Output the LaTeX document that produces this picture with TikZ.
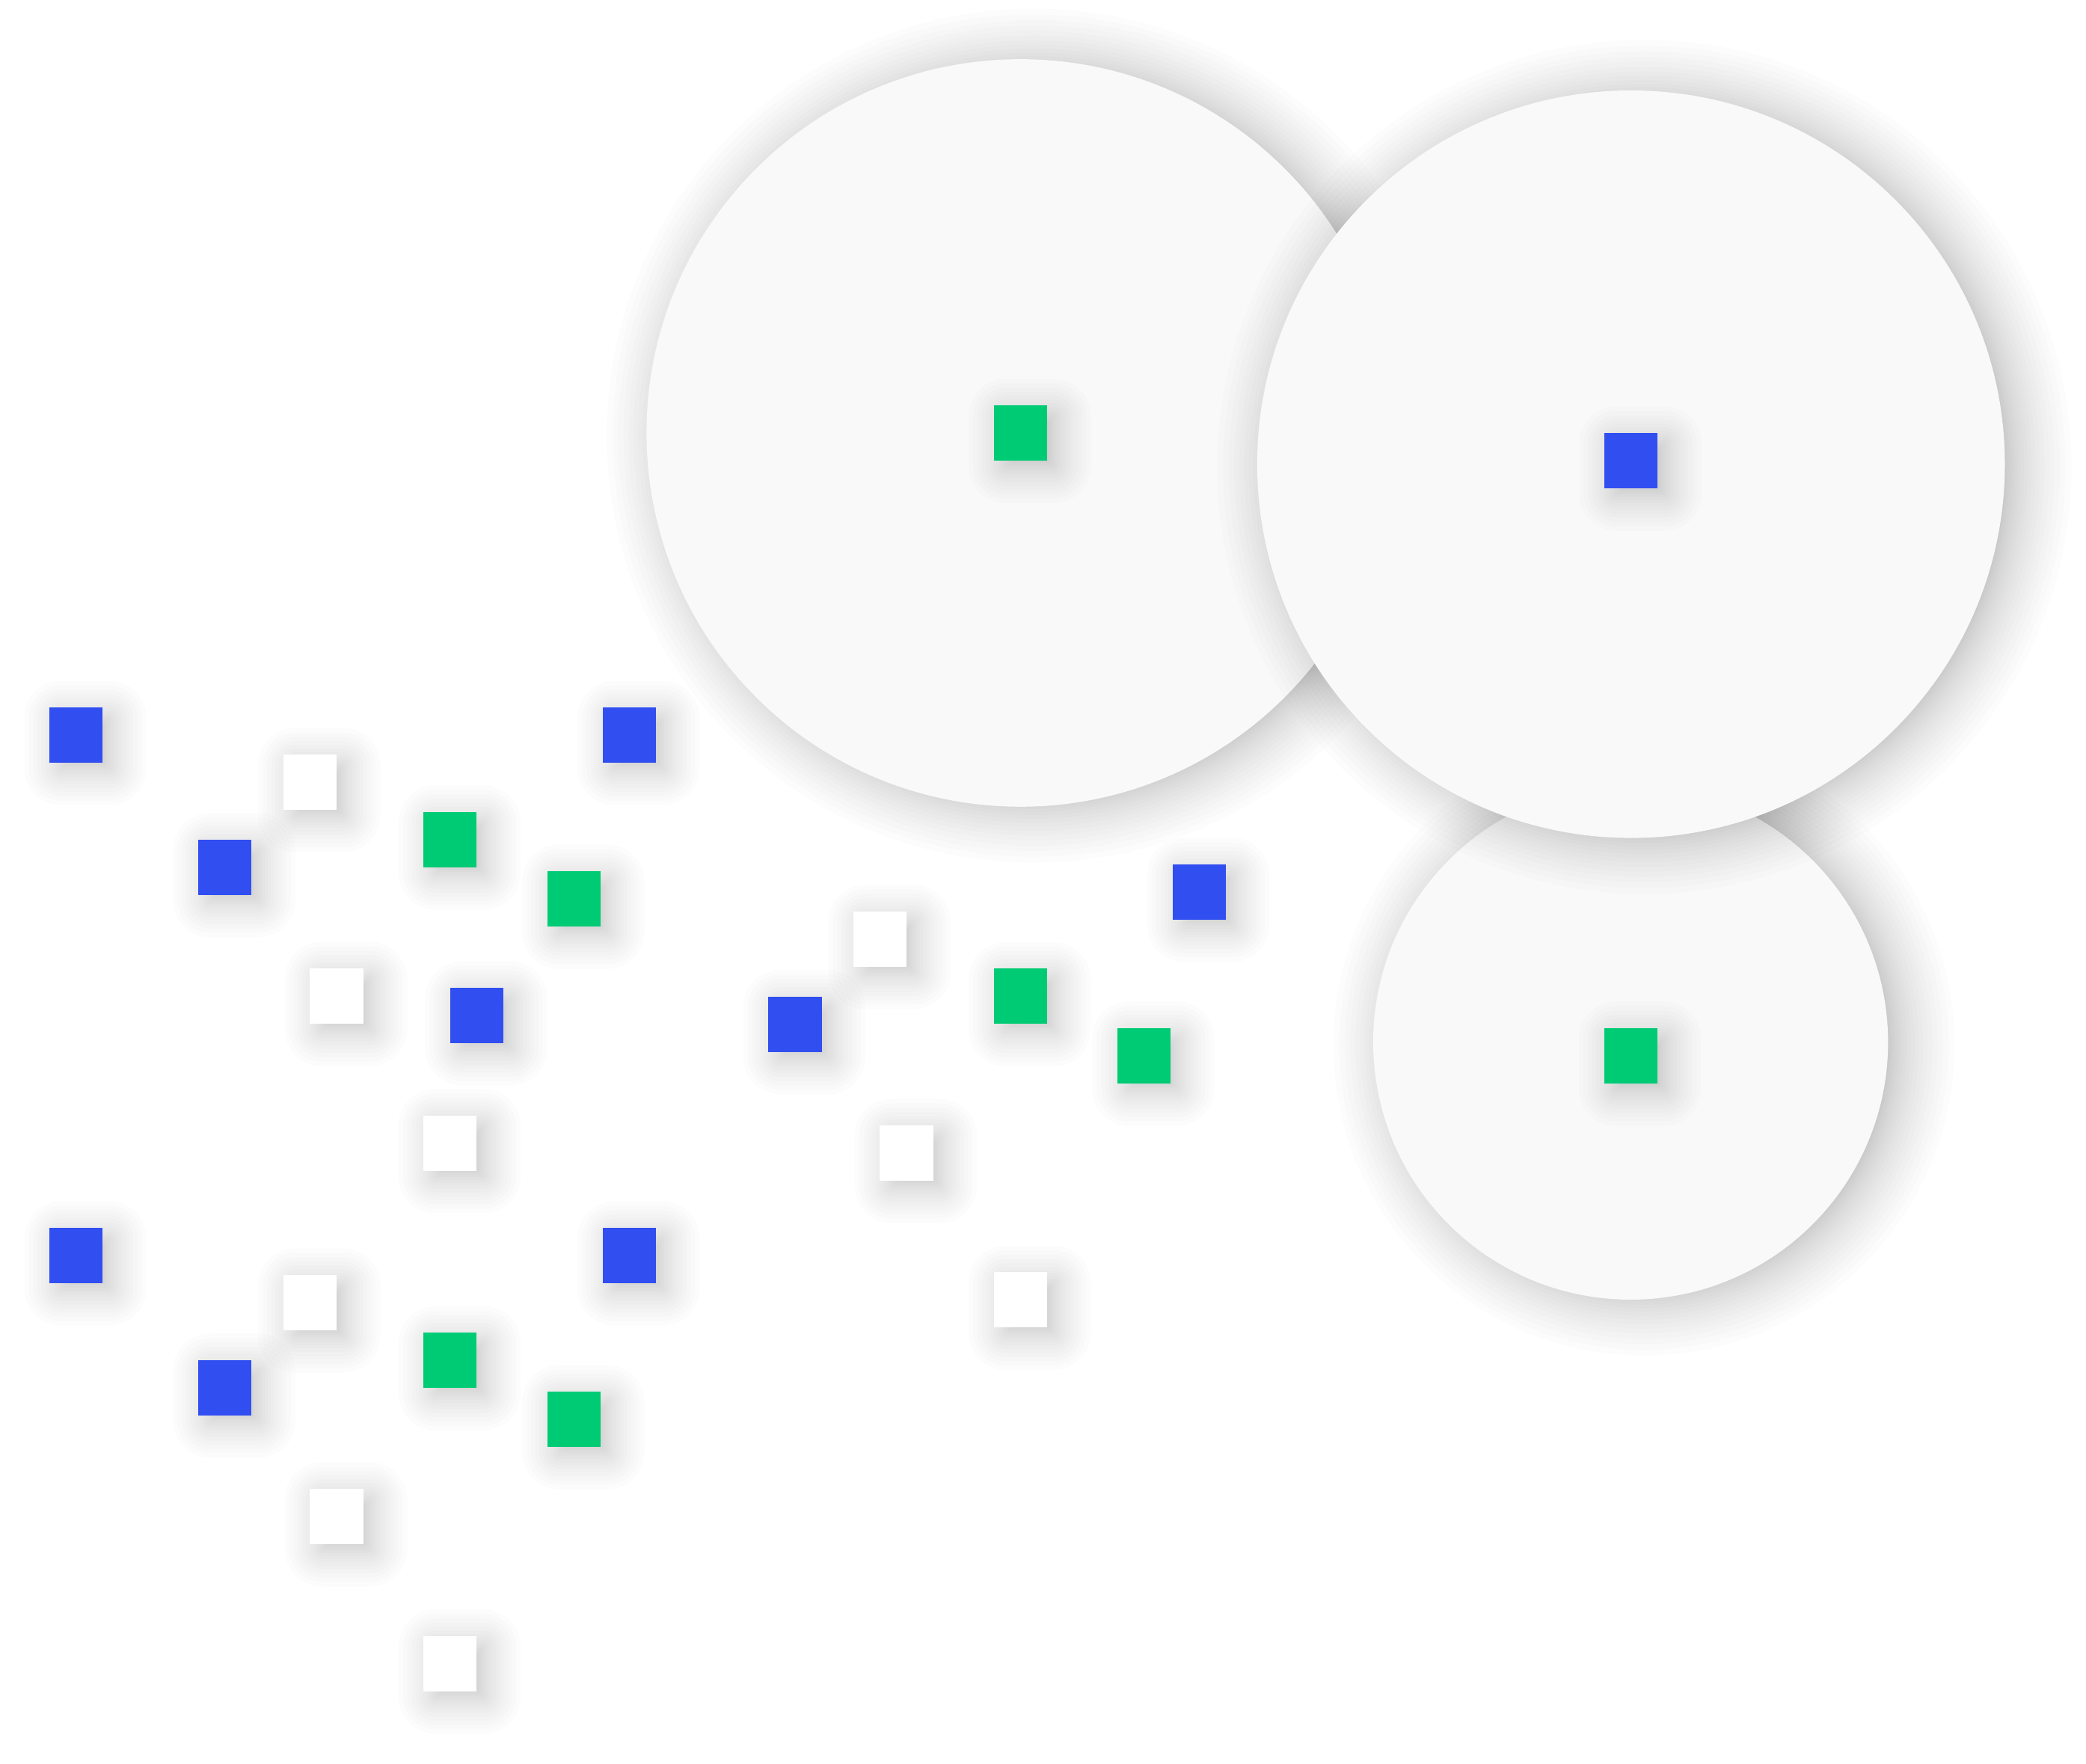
\documentclass[tikz,border=0pt]{standalone}
\definecolor{azul}{RGB}{49,78,241}
\definecolor{verde}{RGB}{0,203,117}
\definecolor{disco}{RGB}{249,249,249}
\tikzset{
  cuadro/.style={rectangle,minimum width=40pt,minimum height=41.6pt,
      inner sep=0pt,draw=none},
  circulo/.style={circle,fill=disco,draw=none,inner sep=0pt},
  sombra/.style={black,opacity=0.013},
  sombragrande/.style={black,opacity=0.011}
}
% cuadro con sombra: nombre, color, posicion
\newcommand{\cuadro}[3]{%
  \begin{scope}[shift={(#3)}]
    \foreach \k [evaluate=\k as \e using {-10+36*(\k/20)^2}] in {0,...,20}
      \fill[sombra,rounded corners={max(\e,0)+2}]
        ({-13-(\e)},{-14.8-(\e)}) rectangle ({27+(\e)},{26.8+(\e)});
  \end{scope}
  \node[cuadro,fill=#2] (#1) at (#3) {};
}
% disco con sombra: nombre, radio, posicion
\newcommand{\disco}[3]{%
  \begin{scope}[shift={(#3)}]
    \foreach \k [evaluate=\k as \e using {-14+54*(\k/24)^2}] in {0,...,24}
      \fill[sombragrande] (10,2) circle[radius={#2+(\e)}];
  \end{scope}
  \node[circulo,minimum size={2*#2}] (#1) at (#3) {};
}
\begin{document}
\begin{tikzpicture}[x=1pt,y=-1pt]
        % Fondo
        \fill[white] (0,0) rectangle (1568,1325.7);
        \useasboundingbox (0,0) rectangle (1568,1325.7);

        % Discos
        \disco{discoA}{281}{767,325.5}
        \disco{discoC}{193.5}{1225.7,783.6}
        \disco{discoB}{281}{1226,349}

        % Centros de los discos
        \cuadro{cA}{verde}{767,325.5}
        \cuadro{cB}{azul}{1226,346.4}
        \cuadro{cC}{verde}{1225.7,793.7}

        % Grupo superior
        \cuadro{a1}{azul}{57.2,552.6}
        \cuadro{a2}{white}{233,588}
        \cuadro{a3}{verde}{338.4,631.3}
        \cuadro{a4}{azul}{169,652}
        \cuadro{a5}{verde}{431.4,675.7}
        \cuadro{a6}{white}{253,748.8}
        \cuadro{a7}{azul}{358.5,763.4}
        \cuadro{a8}{white}{338.4,859.5}
        \cuadro{a9}{azul}{473,552.6}

        % Grupo inferior
        \cuadro{b1}{azul}{57.2,943.9}
        \cuadro{b2}{white}{233,979.3}
        \cuadro{b3}{verde}{338.4,1022.6}
        \cuadro{b4}{azul}{169,1043.3}
        \cuadro{b5}{verde}{431.4,1067}
        \cuadro{b6}{white}{253,1140.1}
        \cuadro{b8}{white}{338.4,1250.8}
        \cuadro{b9}{azul}{473,943.9}

        % Grupo central
        \cuadro{m1}{white}{661.6,706}
        \cuadro{m2}{azul}{597.6,770}
        \cuadro{m3}{verde}{767,749}
        \cuadro{m4}{azul}{901.3,670.6}
        \cuadro{m5}{verde}{859.8,793.7}
        \cuadro{m6}{white}{681.4,866.8}
        \cuadro{m7}{white}{767,977.3}
    \end{tikzpicture}
\end{document}
